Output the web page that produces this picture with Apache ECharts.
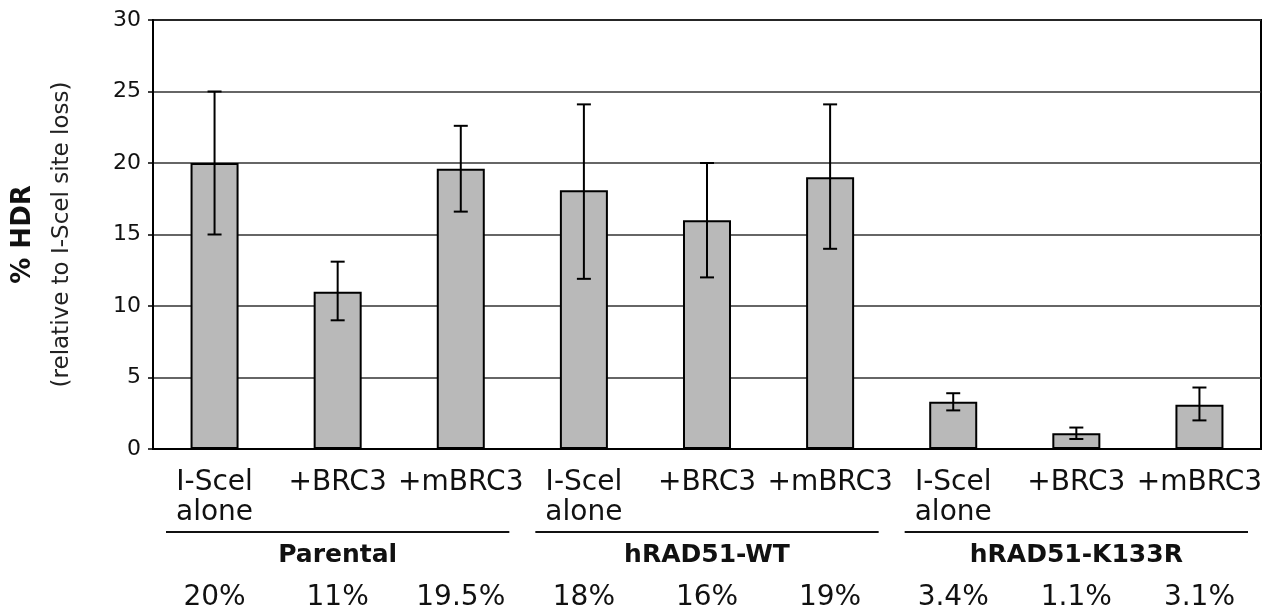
<!DOCTYPE html>
<html>
<head>
<meta charset="utf-8">
<script src="https://cdn.jsdelivr.net/npm/echarts@6/dist/echarts.min.js"></script>
<style>
  html, body { margin: 0; padding: 0; background: #fff; }
  #main { width: 1283px; height: 613px; }
</style>
</head>
<body>
<div id="main"></div>
<script>
// categories and values
var categories = ['I-Scel\nalone', '+BRC3', '+mBRC3', 'I-Scel\nalone', '+BRC3', '+mBRC3', 'I-Scel\nalone', '+BRC3', '+mBRC3'];
var hdr = [20, 11, 19.6, 18.1, 16.0, 19.0, 3.3, 1.1, 3.1];
var errLow = [15, 9, 16.6, 11.9, 12, 14, 2.7, 0.7, 2.0];
var errHigh = [25, 13.1, 22.6, 24.1, 20, 24.1, 3.9, 1.5, 4.3];
var pctLabels = ['20%', '11%', '19.5%', '18%', '16%', '19%', '3.4%', '1.1%', '3.1%'];
var groups = ['Parental', 'hRAD51-WT', 'hRAD51-K133R'];

var FONT = 'DejaVu Sans';
var dom = document.getElementById('main');
var myChart = echarts.init(dom, null, { renderer: 'canvas' });

var errData = hdr.map(function (v, i) { return [i, errLow[i], errHigh[i]]; });

var option = {
    backgroundColor: '#fff',
    animation: false,
    grid: {
        left: 153, right: 22, top: 20, bottom: 164,
        show: true, borderColor: '#000', borderWidth: 2
    },
    xAxis: [
        {
            type: 'category',
            data: categories,
            axisLine: { lineStyle: { color: '#000', width: 2 } },
            axisTick: { show: false },
            axisLabel: {
                interval: 0, margin: 19, color: '#111',
                fontFamily: FONT, fontSize: 28, lineHeight: 30
            }
        },
        {
            type: 'category',
            data: pctLabels,
            position: 'bottom',
            offset: 135,
            axisLine: { show: false },
            axisTick: { show: false },
            axisLabel: { interval: 0, margin: 0, color: '#111', fontFamily: FONT, fontSize: 28 }
        },
        {
            type: 'category',
            data: groups,
            position: 'bottom',
            offset: 94,
            axisLine: { show: false },
            axisTick: { show: false },
            axisLabel: { interval: 0, margin: 0, color: '#111', fontFamily: FONT, fontSize: 25, fontWeight: 'bold' }
        }
    ],
    yAxis: {
        type: 'value',
        min: 0, max: 30, interval: 5,
        name: '{a|% HDR}\n{b|(relative to I-Scel site loss)}',
        nameLocation: 'middle',
        nameRotate: 90,
        nameGap: 74,
        nameTextStyle: {
            rich: {
                a: { fontFamily: FONT, fontSize: 26, fontWeight: 'bold', color: '#111', lineHeight: 44 },
                b: { fontFamily: FONT, fontSize: 23, color: '#222', lineHeight: 34 }
            }
        },
        axisLine: { show: true, lineStyle: { color: '#000', width: 2 } },
        axisTick: { show: true, length: 5, lineStyle: { color: '#000', width: 1.5 } },
        axisLabel: { margin: 12, color: '#111', fontFamily: FONT, fontSize: 22 },
        splitLine: { lineStyle: { color: '#333', width: 1.5 } }
    },
    series: [
        {
            name: '% HDR',
            type: 'bar',
            data: hdr,
            barWidth: '39%',
            itemStyle: { color: '#b9b9b9', borderColor: '#000', borderWidth: 2 }
        },
        {
            name: 'error',
            type: 'custom',
            data: errData,
            encode: { x: 0, y: [1, 2] },
            z: 10,
            renderItem: function (params, api) {
                var x = api.value(0);
                var lo = api.coord([x, api.value(1)]);
                var hi = api.coord([x, api.value(2)]);
                var w = 7;
                var st = { stroke: '#000', lineWidth: 2 };
                return {
                    type: 'group',
                    children: [
                        { type: 'line', shape: { x1: lo[0], y1: lo[1], x2: hi[0], y2: hi[1] }, style: st },
                        { type: 'line', shape: { x1: hi[0] - w, y1: hi[1], x2: hi[0] + w, y2: hi[1] }, style: st },
                        { type: 'line', shape: { x1: lo[0] - w, y1: lo[1], x2: lo[0] + w, y2: lo[1] }, style: st }
                    ]
                };
            }
        }
    ]
};

myChart.setOption(option);

// group underlines, placed from the group axis scale
var c0 = myChart.convertToPixel({ xAxisIndex: 2 }, 0);
var c1 = myChart.convertToPixel({ xAxisIndex: 2 }, 1);
var band = c1 - c0;
var lines = groups.map(function (g, i) {
    var cx = myChart.convertToPixel({ xAxisIndex: 2 }, i);
    return {
        type: 'line',
        shape: { x1: cx - band / 2 + 13, y1: 532, x2: cx + band / 2 - 13, y2: 532 },
        style: { stroke: '#111', lineWidth: 2 }
    };
});
myChart.setOption({ graphic: lines });
</script>
</body>
</html>
